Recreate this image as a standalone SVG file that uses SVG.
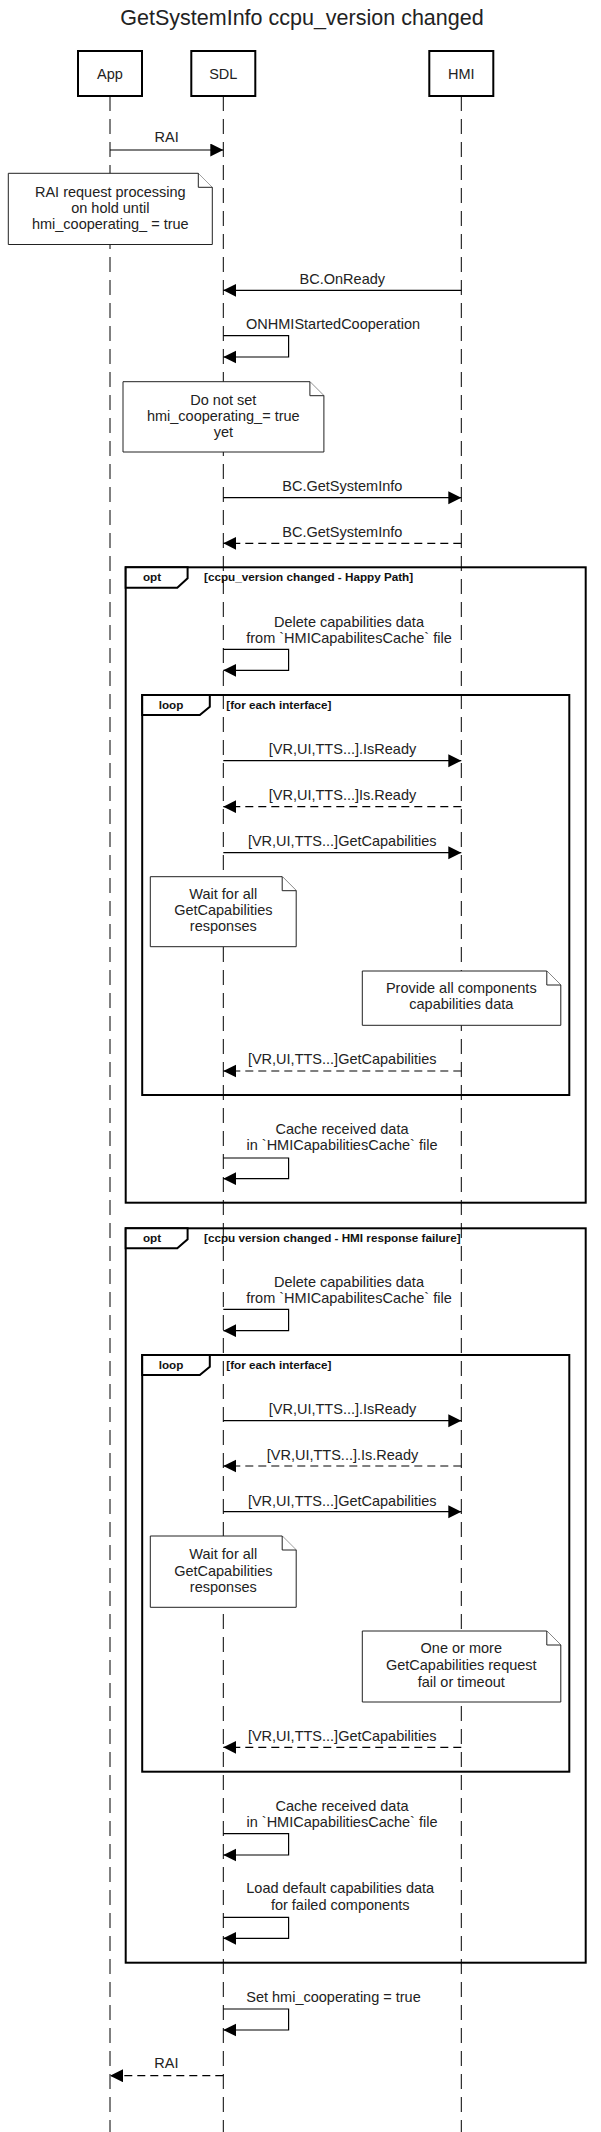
<svg xmlns="http://www.w3.org/2000/svg" width="601" height="2132" viewBox="0 0 601 2132">
<style>
text{font-family:"Liberation Sans",Arial,sans-serif;fill:#222}
.t{font-size:14.5px;text-anchor:middle}
.title{font-size:21.5px;text-anchor:middle}
.fl{font-size:11.7px;font-weight:bold;fill:#111}
.flc{font-size:11.7px;font-weight:bold;fill:#111;text-anchor:middle}
.head{fill:#fff;stroke:#000;stroke-width:2}
.life{stroke:#000;stroke-width:1;stroke-dasharray:15 8;fill:none}
.msg{stroke:#000;stroke-width:1.2;fill:none;marker-end:url(#ah)}
.ret{stroke:#000;stroke-width:1.2;fill:none;stroke-dasharray:8 5;marker-end:url(#ah)}
.note{fill:#fff;stroke:#222;stroke-width:1}
.frame{fill:none;stroke:#000;stroke-width:2}
.tab{fill:#fff;stroke:#000;stroke-width:2}
</style>
<defs>
<marker id="ah" markerUnits="userSpaceOnUse" markerWidth="14" markerHeight="14" refX="13" refY="6.5" orient="auto">
<path d="M0,0 L13,6.5 L0,13 Z" fill="#000"/>
</marker>
</defs>
<rect width="601" height="2132" fill="#fff"/>
<text class="title" x="302" y="25">GetSystemInfo ccpu_version changed</text>

<g id="lifelines">
<line class="life" x1="110" y1="96" x2="110" y2="2132"/>
<line class="life" x1="223.3" y1="96" x2="223.3" y2="2132"/>
<line class="life" x1="461.3" y1="96" x2="461.3" y2="2132"/>
</g>

<g id="head-app"><rect class="head" x="78" y="51" width="64" height="45"/><text class="t" x="110" y="79">App</text></g>
<g id="head-sdl"><rect class="head" x="191.3" y="51" width="64" height="45"/><text class="t" x="223.3" y="79">SDL</text></g>
<g id="head-hmi"><rect class="head" x="429.3" y="51" width="64" height="45"/><text class="t" x="461.3" y="79">HMI</text></g>

<g id="frame-opt1">
<rect class="frame" x="125.7" y="567.3" width="460" height="635.4"/>
<path class="tab" d="M125.7,567.3 H187.6 V578.3 L177.3,587.7 H125.7 Z"/>
<text class="flc" x="152" y="581">opt</text>
<text class="fl" x="204" y="581">[ccpu_version changed - Happy Path]</text>
</g>
<g id="frame-loop1">
<rect class="frame" x="142.2" y="695" width="427.1" height="400"/>
<path class="tab" d="M142.2,695 H209.8 V706.7 L199.8,715 H142.2 Z"/>
<text class="flc" x="171" y="708.5">loop</text>
<text class="fl" x="226.3" y="708.5">[for each interface]</text>
</g>
<g id="frame-opt2">
<rect class="frame" x="125.7" y="1228.3" width="460" height="734.4"/>
<path class="tab" d="M125.7,1228.3 H187.6 V1239.3 L177.3,1248.3 H125.7 Z"/>
<text class="flc" x="152" y="1241.5">opt</text>
<text class="fl" x="204" y="1241.5">[ccpu version changed - HMI response failure]</text>
</g>
<g id="frame-loop2">
<rect class="frame" x="142.2" y="1355" width="427.1" height="416.7"/>
<path class="tab" d="M142.2,1355 H209.8 V1366.7 L199.8,1375 H142.2 Z"/>
<text class="flc" x="171" y="1368.5">loop</text>
<text class="fl" x="226.3" y="1368.5">[for each interface]</text>
</g>

<g id="note-rai-hold">
<path class="note" d="M8.3,173.3 H198.3 L212.3,187.3 V244.5 H8.3 Z"/>
<path class="note" d="M198.3,173.3 V187.3 H212.3" fill="none"/>
<text class="t" x="110.3" y="196.7">RAI request processing</text>
<text class="t" x="110.3" y="212.9">on hold until</text>
<text class="t" x="110.3" y="229.1">hmi_cooperating_ = true</text>
</g>
<g id="note-do-not-set">
<path class="note" d="M123,381.7 H309.9 L323.9,395.7 V452 H123 Z"/>
<path class="note" d="M309.9,381.7 V395.7 H323.9" fill="none"/>
<text class="t" x="223.3" y="405">Do not set</text>
<text class="t" x="223.3" y="420.9">hmi_cooperating_= true</text>
<text class="t" x="223.3" y="436.8">yet</text>
</g>
<g id="note-wait-1">
<path class="note" d="M150.3,876.7 H282.2 L296.2,890.7 V946.7 H150.3 Z"/>
<path class="note" d="M282.2,876.7 V890.7 H296.2" fill="none"/>
<text class="t" x="223.3" y="899">Wait for all</text>
<text class="t" x="223.3" y="915">GetCapabilities</text>
<text class="t" x="223.3" y="931">responses</text>
</g>
<g id="note-provide">
<path class="note" d="M362.3,971 H546.8 L560.8,985 V1025.3 H362.3 Z"/>
<path class="note" d="M546.8,971 V985 H560.8" fill="none"/>
<text class="t" x="461.3" y="993.3">Provide all components</text>
<text class="t" x="461.3" y="1009.3">capabilities data</text>
</g>
<g id="note-wait-2">
<path class="note" d="M150.3,1536 H282.2 L296.2,1550 V1607.3 H150.3 Z"/>
<path class="note" d="M282.2,1536 V1550 H296.2" fill="none"/>
<text class="t" x="223.3" y="1559.3">Wait for all</text>
<text class="t" x="223.3" y="1575.5">GetCapabilities</text>
<text class="t" x="223.3" y="1591.7">responses</text>
</g>
<g id="note-fail">
<path class="note" d="M362.3,1631 H546.8 L560.8,1645 V1702 H362.3 Z"/>
<path class="note" d="M546.8,1631 V1645 H560.8" fill="none"/>
<text class="t" x="461.3" y="1653.3">One or more</text>
<text class="t" x="461.3" y="1670">GetCapabilities request</text>
<text class="t" x="461.3" y="1686.7">fail or timeout</text>
</g>

<g id="connectors">
<line class="msg" x1="110" y1="150" x2="223.3" y2="150"/>
<text class="t" x="166.7" y="141.7">RAI</text>

<line class="msg" x1="461.3" y1="290.3" x2="223.3" y2="290.3"/>
<text class="t" x="342.3" y="284.3">BC.OnReady</text>

<path class="msg" d="M223.3,335.7 H288.6 V357 H223.3"/>
<text class="t" x="333.1" y="329">ONHMIStartedCooperation</text>

<line class="msg" x1="223.3" y1="497.7" x2="461.3" y2="497.7"/>
<text class="t" x="342.3" y="490.7">BC.GetSystemInfo</text>

<line class="ret" x1="461.3" y1="543.3" x2="223.3" y2="543.3"/>
<text class="t" x="342.3" y="536.7">BC.GetSystemInfo</text>

<path class="msg" d="M223.3,649.3 H288.6 V670.3 H223.3"/>
<text class="t" x="349" y="626.7">Delete capabilities data</text>
<text class="t" x="349" y="642.5">from `HMICapabilitesCache` file</text>

<line class="msg" x1="223.3" y1="760.7" x2="461.3" y2="760.7"/>
<text class="t" x="342.5" y="754.3">[VR,UI,TTS...].IsReady</text>

<line class="ret" x1="461.3" y1="806.7" x2="223.3" y2="806.7"/>
<text class="t" x="342.5" y="800">[VR,UI,TTS...]Is.Ready</text>

<line class="msg" x1="223.3" y1="852.7" x2="461.3" y2="852.7"/>
<text class="t" x="342.2" y="846">[VR,UI,TTS...]GetCapabilities</text>

<line class="ret" x1="461.3" y1="1071" x2="223.3" y2="1071"/>
<text class="t" x="342.2" y="1064">[VR,UI,TTS...]GetCapabilities</text>

<path class="msg" d="M223.3,1158 H288.6 V1178.7 H223.3"/>
<text class="t" x="342" y="1134">Cache received data</text>
<text class="t" x="342" y="1150">in `HMICapabilitiesCache` file</text>

<path class="msg" d="M223.3,1309.3 H288.6 V1330.7 H223.3"/>
<text class="t" x="349" y="1286.7">Delete capabilities data</text>
<text class="t" x="349" y="1302.5">from `HMICapabilitesCache` file</text>

<line class="msg" x1="223.3" y1="1420.7" x2="461.3" y2="1420.7"/>
<text class="t" x="342.5" y="1414.3">[VR,UI,TTS...].IsReady</text>

<line class="ret" x1="461.3" y1="1466" x2="223.3" y2="1466"/>
<text class="t" x="342.5" y="1460">[VR,UI,TTS...].Is.Ready</text>

<line class="msg" x1="223.3" y1="1511.7" x2="461.3" y2="1511.7"/>
<text class="t" x="342.2" y="1505.7">[VR,UI,TTS...]GetCapabilities</text>

<line class="ret" x1="461.3" y1="1747.3" x2="223.3" y2="1747.3"/>
<text class="t" x="342.2" y="1740.7">[VR,UI,TTS...]GetCapabilities</text>

<path class="msg" d="M223.3,1833.7 H288.6 V1855 H223.3"/>
<text class="t" x="342" y="1810.7">Cache received data</text>
<text class="t" x="342" y="1826.7">in `HMICapabilitiesCache` file</text>

<path class="msg" d="M223.3,1917.3 H288.6 V1938.3 H223.3"/>
<text class="t" x="340.2" y="1893.3">Load default capabilities data</text>
<text class="t" x="340.2" y="1910">for failed components</text>

<path class="msg" d="M223.3,2009 H288.6 V2030 H223.3"/>
<text class="t" x="333.5" y="2001.7">Set hmi_cooperating = true</text>

<line class="ret" x1="223.3" y1="2075.7" x2="110" y2="2075.7"/>
<text class="t" x="166.4" y="2068.3">RAI</text>
</g>
</svg>
